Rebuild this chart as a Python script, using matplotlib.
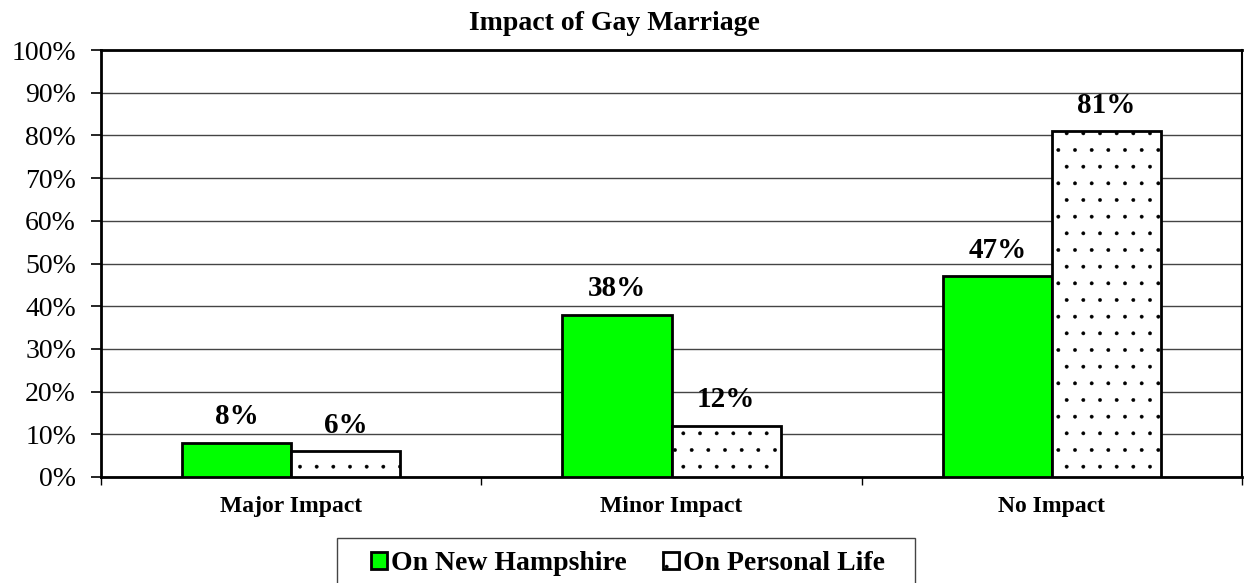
import matplotlib
matplotlib.use("Agg")
import matplotlib.pyplot as plt
from matplotlib.patches import Rectangle
import numpy as np

categories = ["Major Impact", "Minor Impact", "No Impact"]
nh_values = [8, 38, 47]
personal_values = [6, 12, 81]
series_names = ["On New Hampshire", "On Personal Life"]
title = "Impact of Gay Marriage"
yticks = [0, 10, 20, 30, 40, 50, 60, 70, 80, 90, 100]

plt.rcParams['font.family'] = ['Liberation Serif', 'DejaVu Serif']
plt.rcParams['hatch.linewidth'] = 0.3
plt.rcParams['hatch.color'] = '#333333'

W, H = 1244, 583
fig = plt.figure(figsize=(W/100, H/100), dpi=100)
ax = fig.add_axes([101/W, 1 - 477/H, (1242 - 101)/W, (477 - 50)/H])

x = np.arange(len(categories))
w = 0.287
b1 = ax.bar(x - w/2, nh_values, w, color='#00ff00', edgecolor='black', linewidth=2,
            label=series_names[0], zorder=3)
b2 = ax.bar(x + w/2, personal_values, w, color='white', edgecolor='black', linewidth=2,
            hatch='.', label=series_names[1], zorder=3)

for bars, vals in ((b1, nh_values), (b2, personal_values)):
    for r, v in zip(bars, vals):
        ax.annotate(f"{v}%", (r.get_x() + r.get_width()/2, v), xytext=(0, 9),
                    textcoords='offset points', ha='center', va='bottom',
                    fontsize=21, fontweight='bold')

ax.set_xlim(-0.5, len(categories) - 0.5)
ax.set_ylim(0, 100)
ax.set_yticks(yticks)
ax.set_yticklabels([f"{t}%" for t in yticks], fontsize=20)
ax.yaxis.grid(True, color='#444444', linewidth=1.0, zorder=0)
ax.set_axisbelow(True)
ax.tick_params(axis='y', length=7, width=1.2, pad=11)

ax.set_xticks(x)
ax.set_xticklabels(categories, fontsize=17, fontweight='bold')
ax.tick_params(axis='x', length=0, pad=14)
ax.set_xticks(np.arange(len(categories) + 1) - 0.5, minor=True)
ax.tick_params(axis='x', which='minor', length=6, width=1.0)

for s in ['left', 'bottom', 'top']:
    ax.spines[s].set_linewidth(2)
ax.spines['right'].set_linewidth(1.5)

fig.text(614/W, 1 - 24/H, title, fontsize=20, fontweight='bold', ha='center', va='center')

# legend frame box (extends below the figure edge as in the reference)
fig.patches.append(Rectangle((337/W, -0.05), (915 - 337)/W, (0.05 + 1 - 538/H),
                             transform=fig.transFigure, facecolor='white',
                             edgecolor='#444444', linewidth=1.0, zorder=1))
leg = fig.legend(handles=[b1, b2], labels=series_names, loc='center',
                 bbox_to_anchor=(628/W, 1 - 564/H), ncol=2, frameon=False,
                 prop={'size': 20, 'weight': 'bold'},
                 handlelength=0.58, handleheight=0.58, handletextpad=0.15,
                 columnspacing=1.3, borderpad=0, borderaxespad=0)
leg.set_zorder(2)

fig.savefig("out.png", dpi=100)
